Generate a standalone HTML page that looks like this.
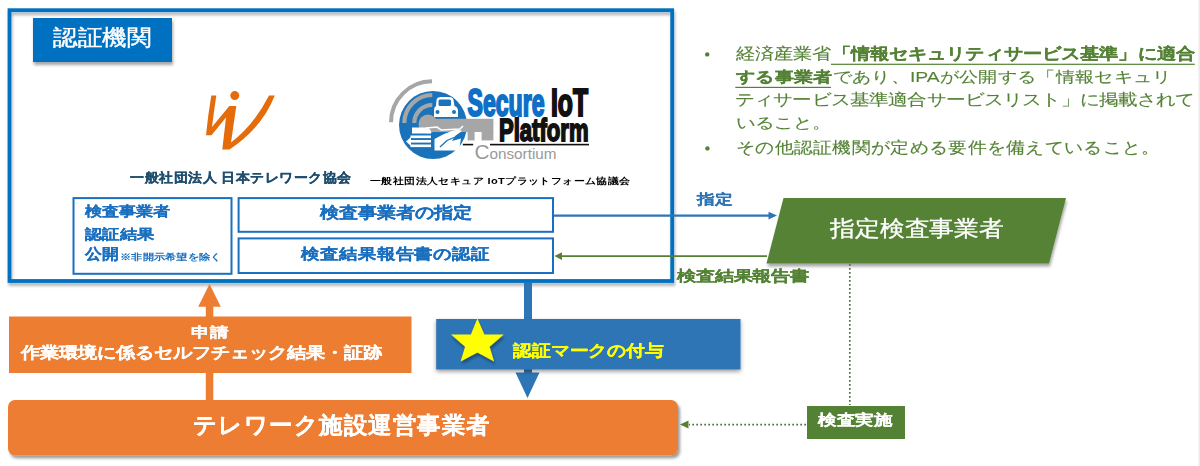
<!DOCTYPE html>
<html lang="ja">
<head>
<meta charset="utf-8">
<style>
html,body{margin:0;padding:0;width:1200px;height:466px;overflow:hidden;background:#fff;}
body{position:relative;font-family:"Liberation Sans",sans-serif;}
.t{position:absolute;white-space:nowrap;line-height:1;transform-origin:0 0;}
.k{-webkit-text-stroke:0.2px currentColor;}
.r{-webkit-text-stroke:0.15px currentColor;}
svg{position:absolute;left:0;top:0;}
</style>
</head>
<body>
<svg width="1200" height="466" viewBox="0 0 1200 466">
  <defs>
    <filter id="sh" x="-5%" y="-5%" width="110%" height="120%">
      <feGaussianBlur in="SourceAlpha" stdDeviation="1.5"/>
      <feOffset dx="1" dy="3" result="o"/>
      <feComponentTransfer><feFuncA type="linear" slope="0.35"/></feComponentTransfer>
      <feMerge><feMergeNode/><feMergeNode in="SourceGraphic"/></feMerge>
    </filter>
    <filter id="sh2" x="-10%" y="-20%" width="120%" height="140%">
      <feGaussianBlur in="SourceAlpha" stdDeviation="2"/>
      <feOffset dx="0" dy="1.5" result="o"/>
      <feComponentTransfer><feFuncA type="linear" slope="0.4"/></feComponentTransfer>
      <feMerge><feMergeNode/><feMergeNode in="SourceGraphic"/></feMerge>
    </filter>
    <filter id="sh3" x="-5%" y="-20%" width="110%" height="150%">
      <feGaussianBlur in="SourceAlpha" stdDeviation="1.5"/>
      <feOffset dx="2" dy="2.5" result="o"/>
      <feComponentTransfer><feFuncA type="linear" slope="0.4"/></feComponentTransfer>
      <feMerge><feMergeNode/><feMergeNode in="SourceGraphic"/></feMerge>
    </filter>
    <filter id="sh4" x="-5%" y="-5%" width="110%" height="120%">
      <feGaussianBlur in="SourceAlpha" stdDeviation="1.4"/>
      <feOffset dx="0.5" dy="3" result="o"/>
      <feComponentTransfer><feFuncA type="linear" slope="0.3"/></feComponentTransfer>
      <feMerge><feMergeNode/><feMergeNode in="SourceGraphic"/></feMerge>
    </filter>
  </defs>
  <!-- outer box -->
  <rect x="9.5" y="10.2" width="662.7" height="270.8" fill="none" stroke="#0070c0" stroke-width="3.8" filter="url(#sh4)"/>
  <!-- label -->
  <rect x="33" y="18" width="139" height="44" fill="#0070c0" filter="url(#sh)"/>

  <!-- telework W logo -->
  <g fill="#e46c0a">
    <path d="M211.3 95.5 L216.3 95.5 Q214 111 212 127 L229.3 106 L236.3 106 L231 142.5 Q254 125 269 95.5 L274.8 95.5 Q262 128 229.5 149.5 L222.3 149.5 L226 117.5 L211.5 135.3 L206 135.3 Q208 115 211.3 95.5 Z"/>
    <circle cx="234.8" cy="95.6" r="4.5"/>
  </g>
  <!-- secure iot logo -->
  <g>
    <path d="M432 81.3 A41 41 0 0 0 391 122.3" fill="none" stroke="#a6a6a6" stroke-width="4"/>
    <circle cx="433" cy="125" r="34" fill="#1a73ba"/>
    <path d="M432.3 95 A28 28 0 0 0 404.3 123" fill="none" stroke="#a6a6a6" stroke-width="4.2"/>
    <path d="M432.3 105 A18 18 0 0 0 414.3 123" fill="none" stroke="#a6a6a6" stroke-width="4.2"/>
    <!-- car -->
    <path d="M436.5 100 Q437 97 441 97 L449 97 Q453 97 453.5 100 L454.5 106 Q458 107 458 111 L458 117 L434 117 L434 110 Q434 107 436 106 Z" fill="#fff"/>
    <rect x="438.5" y="99.5" width="12.5" height="6.5" rx="1.5" fill="#1a73ba"/>
    <circle cx="437.5" cy="112" r="2" fill="#1a73ba"/>
    <circle cx="454" cy="112" r="2" fill="#1a73ba"/>
    <!-- key -->
    <circle cx="428" cy="124" r="9.5" fill="#a6a6a6"/>
    <rect x="428" y="118.8" width="65.4" height="13.2" fill="#a6a6a6"/>
    <rect x="467.6" y="131" width="7" height="9.4" fill="#a6a6a6"/>
    <rect x="481.6" y="131" width="11.8" height="9.4" fill="#a6a6a6"/>
    <path d="M426 128 L437 127 L441 130 L460 129 L463 126" fill="none" stroke="#fff" stroke-width="1.6"/>
    <!-- doc lines bottom-left -->
    <g fill="#fff">
      <path d="M412 127.5 L428 127.5 L431 131 L431 133.5 L412 133.5 Z"/>
      <rect x="410.5" y="135.5" width="20.5" height="2.6"/>
      <rect x="410.5" y="140" width="20.5" height="2.6"/>
      <rect x="410.5" y="144.5" width="20.5" height="2.6"/>
      <path d="M406 141.5 L411 137 L411 146 Z"/>
      <!-- hand -->
      <path d="M434.5 139 L444 134 L452 131 L458 129.5 L462 131 L455 136 L452 141 L461 138.5 L459 150.5 L434.5 150.5 Z"/>
    </g>
    <path d="M440 147 L447 140.5 L454 137.5" fill="none" stroke="#1a73ba" stroke-width="1.3"/>
    <!-- text -->
    <text x="467.5" y="115.5" font-family="Liberation Sans" font-weight="bold" font-size="38" fill="#0f6fc6" stroke="#0f6fc6" stroke-width="2.2" textLength="77" lengthAdjust="spacingAndGlyphs">Secure</text>
    <text x="551" y="115.5" font-family="Liberation Sans" font-weight="bold" font-size="38" fill="#111" stroke="#111" stroke-width="2.2" textLength="37" lengthAdjust="spacingAndGlyphs">IoT</text>
    <text x="499" y="140.5" font-family="Liberation Sans" font-weight="bold" font-size="31" fill="#111" stroke="#111" stroke-width="1.8" textLength="89.5" lengthAdjust="spacingAndGlyphs">Platform</text>
    <rect x="462.8" y="143.8" width="10.4" height="1.6" fill="#111"/>
    <rect x="490" y="143.8" width="99" height="1.6" fill="#111"/>
    <text x="474.5" y="159" font-family="Liberation Sans" font-size="21" fill="#999" textLength="15" lengthAdjust="spacingAndGlyphs">C</text>
    <text x="489.5" y="159" font-family="Liberation Sans" font-size="15.5" fill="#999" textLength="67" lengthAdjust="spacingAndGlyphs">onsortium</text>
  </g>
  <!-- inner boxes -->
  <rect x="73.5" y="198.1" width="158" height="75.7" fill="none" stroke="#1a70c0" stroke-width="2"/>
  <rect x="238.6" y="198.1" width="314.4" height="33.7" fill="none" stroke="#1a70c0" stroke-width="2"/>
  <rect x="238.6" y="238.4" width="314.4" height="34.6" fill="none" stroke="#1a70c0" stroke-width="2"/>
  <!-- blue arrow 指定 -->
  <line x1="554" y1="215.6" x2="770" y2="215.6" stroke="#2e75b6" stroke-width="2.2"/>
  <path d="M777 215.6 L768.5 211.8 L768.5 219.5 Z" fill="#2e75b6"/>
  <!-- green parallelogram -->
  <path d="M783.5 198 L1066 198 L1049 263.5 L766.5 263.5 Z" fill="#548235" filter="url(#sh)"/>
  <!-- green arrow back -->
  <line x1="767" y1="256.1" x2="560" y2="256.1" stroke="#548235" stroke-width="1.8"/>
  <path d="M554.3 256.1 L562 252.3 L562 259.9 Z" fill="#548235"/>
  <!-- dotted line -->
  <line x1="849.8" y1="264" x2="849.8" y2="405" stroke="#50703e" stroke-width="1.7" stroke-dasharray="1.7 2.3"/>
  <line x1="806" y1="424.7" x2="689" y2="424.7" stroke="#50703e" stroke-width="1.7" stroke-dasharray="1.7 2.3"/>
  <path d="M680 424.6 L688.5 420.6 L688.5 428.6 Z" fill="#548235"/>
  <!-- orange arrow up -->
  <rect x="205.8" y="306" width="7.5" height="94" fill="#ed7d31"/>
  <path d="M209.5 284 L198.2 306.7 L220.8 306.7 Z" fill="#ed7d31"/>
  <!-- orange box 1 -->
  <rect x="9" y="316.5" width="402.5" height="56.5" fill="#ed7d31"/>
  <!-- blue shaft -->
  <rect x="524" y="283" width="8" height="90" fill="#2e75b6"/>
  <path d="M515.5 372.5 L539.5 372.5 L527.5 398 Z" fill="#2e75b6"/>
  <!-- blue box -->
  <rect x="436.2" y="319" width="304.3" height="50.5" fill="#2e75b6" filter="url(#sh2)"/>
  <!-- star -->
  <path id="star" d="M477.4 318.4 L484.4 334.5 L503.8 334.5 L489.6 346.7 L494.1 361.5 L477.4 352.5 L460.6 361.5 L465.1 346.7 L451 334.5 L470.9 334.5 Z" fill="#ffff00" filter="url(#sh)"/>
  <!-- orange rounded -->
  <rect x="8" y="400" width="670" height="55.3" rx="7" ry="7" fill="#ed7d31" filter="url(#sh3)"/>
  <!-- green box 検査実施 -->
  <rect x="807" y="406" width="98" height="33" fill="#548235"/>
</svg>

<div class="t" id="t_label" style="-webkit-text-stroke-width:0.5px;left:52.82px;top:27.17px;font-size:25px;color:#fff;transform:scale(0.9809,0.8765);">認証機関</div>
<div class="t" id="t_telework" style="-webkit-text-stroke-width:0.3px;left:130.00px;top:171.03px;font-size:14px;letter-spacing:0.5px;color:#1f4e6e;font-weight:bold;transform:scale(1.0000,0.9333);">一般社団法人 日本テレワーク協会</div>
<div class="t" id="t_secure" style="left:370.00px;top:176.76px;font-size:11px;letter-spacing:0.36px;color:#000;font-weight:bold;transform:scale(1.0039,0.8333);">一般社団法人セキュア IoTプラットフォーム協議会</div>
<div class="t k" id="t_l1" style="left:85.25px;top:204.45px;font-size:18px;color:#1a6fbf;font-weight:bold;transform:scale(0.9494,0.7738);">検査事業者</div>
<div class="t k" id="t_l2" style="left:85.31px;top:227.12px;font-size:18px;color:#1a6fbf;font-weight:bold;transform:scale(0.9632,0.7800);">認証結果</div>
<div class="t k" id="t_l3" style="left:85.23px;top:247.28px;font-size:18px;color:#1a6fbf;font-weight:bold;transform:scale(0.9301,0.8312);">公開</div>
<div class="t" id="t_l4" style="left:119.91px;top:252.78px;font-size:11px;color:#1a6fbf;font-weight:bold;transform:scale(1.0263,0.8265);">※非開示希望を除く</div>
<div class="t k" id="t_shitei_box" style="left:319.81px;top:205.28px;font-size:19px;color:#1a6fbf;font-weight:bold;transform:scale(1.0006,0.8351);">検査事業者の指定</div>
<div class="t k" id="t_houkoku_box" style="left:300.96px;top:246.47px;font-size:19px;color:#1a6fbf;font-weight:bold;transform:scale(0.9949,0.8127);">検査結果報告書の認証</div>
<div class="t k" id="t_shitei" style="left:696.67px;top:191.87px;font-size:19px;color:#2e75b6;font-weight:bold;transform:scale(0.9642,0.7609);">指定</div>
<div class="t k" id="t_kekka" style="left:677.16px;top:268.65px;font-size:19px;color:#548235;font-weight:bold;transform:scale(0.9918,0.7730);">検査結果報告書</div>
<div class="t" id="t_para" style="-webkit-text-stroke-width:0.35px;left:830.00px;top:216.96px;font-size:25px;color:#fff;transform:scale(0.9943,0.8818);">指定検査事業者</div>
<div class="t k" id="t_shinsei" style="left:190.98px;top:325.11px;font-size:19px;color:#fff;font-weight:bold;transform:scale(0.9765,0.7364);">申請</div>
<div class="t k" id="t_sagyou" style="left:21.20px;top:344.61px;font-size:19px;color:#fff;font-weight:bold;transform:scale(0.9990,0.8314);">作業環境に係るセルフチェック結果・証跡</div>
<div class="t k" id="t_mark" style="left:513.18px;top:341.94px;font-size:19px;color:#ffff00;font-weight:bold;transform:scale(0.9928,0.8450);">認証マークの付与</div>
<div class="t k" id="t_op" style="left:193.24px;top:414.09px;font-size:24px;letter-spacing:0.8px;color:#fff;font-weight:bold;transform:scale(0.9880,0.9720);">テレワーク施設運営事業者</div>
<div class="t k" id="t_kensa" style="left:817.90px;top:411.89px;font-size:19px;color:#fff;font-weight:bold;transform:scale(0.9810,0.8000);">検査実施</div>

<div class="t r" id="t_b1" style="left:735.60px;top:46.49px;font-size:19px;color:#548235;transform:scale(1.0064,0.8356);">経済産業省<b class="k">「情報セキュリティサービス基準」に適合</b></div>
<div class="t r" id="t_b2" style="left:735.62px;top:69.10px;font-size:19px;color:#548235;transform:scale(1.0172,0.8000);"><b class="k">する事業者</b>であり、IPAが公開する「情報セキュリ</div>
<div class="t r" id="t_b3" style="left:735.38px;top:92.48px;font-size:19px;color:#548235;transform:scale(1.0080,0.8235);">ティサービス基準適合サービスリスト」に掲載されて</div>
<div class="t r" id="t_b4" style="left:735.59px;top:116.34px;font-size:19px;color:#548235;transform:scale(1.0038,0.7757);">いること。</div>
<div class="t r" id="t_b5" style="left:735.55px;top:139.16px;font-size:19px;color:#548235;transform:scale(1.0155,0.8651);">その他認証機関が定める要件を備えていること。</div>
<svg width="1200" height="466" style="position:absolute;left:0;top:0;pointer-events:none">
  <rect x="830.9" y="63.7" width="363.9" height="1.2" fill="#548235"/>
  <rect x="735.3" y="86.8" width="95.6" height="1.2" fill="#548235"/>
  <circle cx="707.2" cy="54.4" r="2.2" fill="#548235"/>
  <circle cx="707.4" cy="148.4" r="2.2" fill="#548235"/>
</svg>
<div style="position:absolute;left:1198px;top:0;width:2px;height:466px;background:linear-gradient(to right,#f6f6f6,#e8e8e8);"></div>
</body>
</html>
